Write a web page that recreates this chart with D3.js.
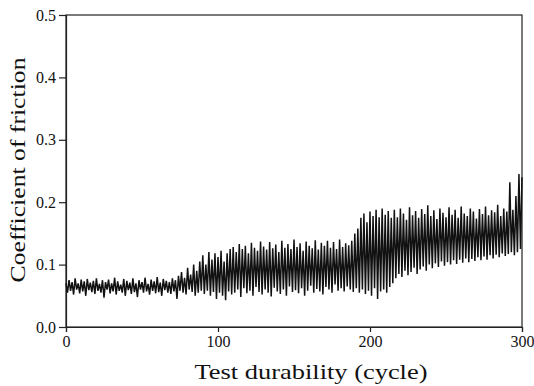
<!DOCTYPE html>
<html lang="en">
<head>
    <meta charset="UTF-8">
    <title>Coefficient of friction vs test durability</title>
    <script src="https://d3js.org/d3.v7.min.js"></script>
    <style>
        body { margin: 0; background: #fff; }
        svg { display: block; }
        text { font-family: "Liberation Serif", "Times New Roman", serif; fill: #111; }
    </style>
</head>
<body>
    <svg width="534" height="386"></svg>

    <script>
        // friction coefficient, one reading per cycle (0..300)
        const friction = [
            0.07,0.055,0.075,0.058,0.072,0.052,0.078,0.06,0.07,0.054,0.076,0.057,0.073,0.05,0.077,0.059,0.071,0.056,0.074,0.053,
            0.078,0.058,0.069,0.055,0.075,0.047,0.072,0.06,0.076,0.054,0.07,0.057,0.079,0.052,0.073,0.058,0.068,0.055,0.077,0.05,
            0.074,0.059,0.071,0.053,0.078,0.056,0.07,0.048,0.075,0.06,0.072,0.055,0.079,0.057,0.069,0.052,0.076,0.058,0.073,0.054,
            0.08,0.056,0.071,0.05,0.077,0.059,0.074,0.055,0.072,0.053,0.078,0.057,0.075,0.045,0.082,
            0.058,0.088,0.055,0.079,0.052,0.095,0.06,0.084,0.056,0.1,0.05,0.09,0.055,0.105,0.058,
            0.115,0.053,0.1,0.058,0.12,0.05,0.108,0.056,0.118,0.045,0.112,0.055,0.122,0.05,0.105,0.043,0.118,0.057,0.125,0.052,
            0.128,0.055,0.12,0.06,0.133,0.048,0.125,0.062,0.13,0.054,0.118,0.058,0.135,0.05,0.127,0.064,0.122,0.056,0.137,0.052,
            0.129,0.06,0.124,0.055,0.136,0.049,0.126,0.063,0.132,0.057,0.12,0.053,0.138,0.06,0.127,0.05,0.133,0.065,0.125,0.056,
            0.14,0.059,0.128,0.054,0.134,0.062,0.122,0.05,0.137,0.058,0.13,0.066,0.126,0.055,0.139,0.061,0.124,0.057,0.135,0.052,
            0.13,0.064,0.138,0.06,0.127,0.055,0.136,0.068,0.125,0.058,0.14,0.062,0.128,0.057,0.134,0.065,0.131,0.06,0.138,0.056,
            0.15,0.062,0.158,0.055,0.175,0.06,0.182,0.053,0.168,0.058,0.185,0.05,0.178,0.062,0.188,0.045,0.176,0.057,0.19,0.06,
            0.18,0.055,0.186,0.064,0.175,
            0.07,0.188,0.078,0.176,0.085,0.19,0.08,0.182,0.09,0.172,0.083,0.192,0.088,0.179,0.095,0.186,0.085,0.175,0.092,0.189,
            0.097,0.181,0.09,0.195,0.1,0.178,0.094,0.187,0.102,0.173,0.096,0.19,0.105,0.183,0.098,0.176,0.104,0.192,0.1,0.18,
            0.107,0.188,0.101,0.175,0.108,0.193,0.103,0.182,0.11,0.178,0.104,0.19,0.109,0.185,0.106,0.174,0.112,0.189,0.107,0.181,
            0.113,0.193,0.108,0.179,0.115,0.187,0.11,0.184,0.116,0.196,0.112,0.178,0.118,0.19,0.114,0.185,0.117,0.232,0.12,0.188,
            0.115,0.21,0.12,0.245,0.125,0.24
        ];
        const cycles = d3.range(friction.length);

        const xTicks = [0, 100, 200, 300];
        const yTicks = [0, 0.1, 0.2, 0.3, 0.4, 0.5];

        const svg = d3.select("svg");
        const margin = { top: 15, right: 12, bottom: 59, left: 66 };
        const width = 534 - margin.left - margin.right;
        const height = 386 - margin.top - margin.bottom;

        const g = svg.append("g").attr("transform", `translate(${margin.left},${margin.top})`);

        const x = d3.scaleLinear().domain([0, 300]).range([0, width]);
        const y = d3.scaleLinear().domain([0, 0.5]).range([height, 0]);

        // frame
        g.append("rect")
            .attr("width", width).attr("height", height)
            .attr("fill", "none").attr("stroke", "#222").attr("stroke-width", 1.2);

        const xAxis = g.append("g")
            .attr("transform", `translate(0,${height})`)
            .call(d3.axisBottom(x).tickValues(xTicks).tickSize(5).tickPadding(4));
        const yAxis = g.append("g")
            .call(d3.axisLeft(y).tickValues(yTicks).tickFormat(d3.format(".1f")).tickSize(7).tickPadding(3));

        [xAxis, yAxis].forEach(a => {
            a.select(".domain").attr("stroke", "#222").attr("stroke-width", 1.2);
            a.selectAll(".tick line").attr("stroke", "#222").attr("stroke-width", 1.2);
            a.selectAll(".tick text")
                .style("font-family", '"Liberation Serif", serif')
                .style("font-size", "16px").attr("fill", "#111");
        });

        const line = d3.line()
            .x(i => x(cycles[i]))
            .y(i => y(friction[i]));

        g.append("path")
            .datum(cycles)
            .attr("d", line)
            .attr("fill", "none")
            .attr("stroke", "#111")
            .attr("stroke-width", 1.5);

        svg.append("text")
            .attr("x", 311).attr("y", 379)
            .attr("text-anchor", "middle")
            .attr("textLength", 233)
            .attr("lengthAdjust", "spacingAndGlyphs")
            .style("font-size", "22px")
            .text("Test durability (cycle)");

        svg.append("text")
            .attr("transform", "translate(25,170) rotate(-90)")
            .attr("text-anchor", "middle")
            .attr("textLength", 225)
            .attr("lengthAdjust", "spacingAndGlyphs")
            .style("font-size", "22px")
            .text("Coefficient of friction");
    </script>
</body>
</html>
